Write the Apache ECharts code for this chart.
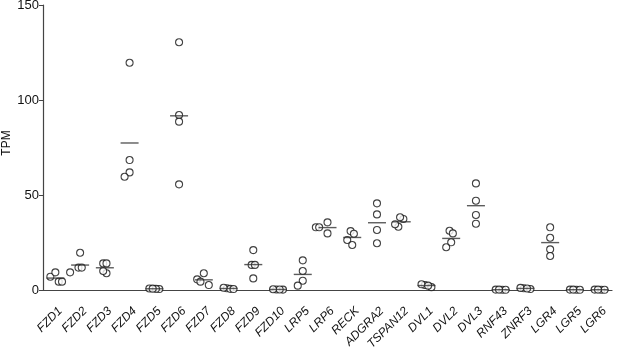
<!DOCTYPE html>
<html>
<head>
<meta charset="utf-8">
<script src="https://cdn.jsdelivr.net/npm/echarts@6/dist/echarts.min.js"></script>
<style>
  html, body { margin: 0; padding: 0; background: #fff; }
  #chart { width: 617px; height: 348px; }
</style>
</head>
<body>
<div id="chart"></div>
<script>
// gene names on the x axis
const genes = ["FZD1", "FZD2", "FZD3", "FZD4", "FZD5", "FZD6", "FZD7", "FZD8", "FZD9", "FZD10", "LRP5",
  "LRP6", "RECK", "ADGRA2", "TSPAN12", "DVL1", "DVL2", "DVL3", "RNF43", "ZNRF3", "LGR4", "LGR5", "LGR6"];
// TPM per replicate (4 per gene)
const tpm = [
  [7.0, 9.3, 4.4, 4.4],
  [19.6, 11.8, 11.8, 9.3],
  [14.0, 14.0, 8.8, 10.0],
  [119.6, 68.4, 61.9, 59.6],
  [0.8, 0.5, 0.6, 0.7],
  [130.4, 92.1, 88.6, 55.6],
  [8.8, 5.6, 4.4, 2.6],
  [0.9, 0.6, 1.2, 0.5],
  [21.0, 13.2, 13.2, 6.1],
  [0.2, 0.3, 0.3, 0.4],
  [15.6, 10.0, 4.9, 2.3],
  [35.6, 33.0, 33.0, 29.8],
  [31.0, 29.6, 26.3, 23.7],
  [45.6, 39.8, 31.6, 24.6],
  [37.4, 38.3, 33.3, 34.6],
  [2.6, 1.5, 3.0, 2.3],
  [31.2, 29.8, 25.1, 22.5],
  [56.1, 47.0, 39.5, 34.9],
  [0.1, 0.2, 0.1, 0.2],
  [0.9, 0.5, 1.1, 0.8],
  [33.0, 27.5, 21.4, 17.9],
  [0.1, 0.2, 0.1, 0.2],
  [0.1, 0.2, 0.1, 0.2]
];
const yName = "TPM";
const yMin = 0;
const yMax = 150;
const yStep = 50;

const points = [];
tpm.forEach((vals, i) => vals.forEach(v => points.push([i, v])));
const means = tpm.map((vals, i) => [i, vals.reduce((a, b) => a + b, 0) / vals.length]);

const chart = echarts.init(document.getElementById("chart"));
const font = "Liberation Sans, Arial, sans-serif";

const option = {
  animation: false,
  grid: { left: 43, right: 5, top: 5, bottom: 58, containLabel: false, outerBoundsMode: "none" },
  // axis title drawn by hand, the axis name kept getting pushed off the page
  graphic: [{
    type: "text",
    x: 7,
    y: 143,
    rotation: Math.PI / 2,
    style: { text: yName, fontSize: 12, fontFamily: font, fill: "#111", align: "center", verticalAlign: "middle" }
  }],
  xAxis: {
    type: "category",
    data: genes,
    axisLine: { lineStyle: { color: "#444", width: 1.2 } },
    axisTick: { alignWithLabel: true, length: 4, lineStyle: { color: "#444" } },
    axisLabel: {
      interval: 0,
      rotate: 45,
      margin: 24,
      padding: [0, -7, 0, 0],
      fontSize: 12,
      fontStyle: "italic",
      fontFamily: font,
      color: "#111"
    }
  },
  yAxis: {
    type: "value",
    min: yMin,
    max: yMax,
    interval: yStep,
    axisLine: { show: true, lineStyle: { color: "#444", width: 1.2 } },
    axisTick: { show: true, length: 4, lineStyle: { color: "#444" } },
    axisLabel: { fontSize: 13, fontFamily: font, color: "#111", margin: 4 },
    splitLine: { show: false }
  },
  series: [
    {
      type: "scatter",
      data: points,
      symbol: "circle",
      symbolSize: 7,
      itemStyle: { color: "#fff", borderColor: "#111", borderWidth: 1.1 },
      z: 2
    },
    {
      type: "scatter",
      data: means,
      symbol: "rect",
      symbolSize: [18, 1.4],
      itemStyle: { color: "#333" },
      z: 3
    }
  ]
};
chart.setOption(option);

// swarm layout: near-ties spread evenly, others pushed sideways until they stop overlapping
const step = 5, minDist = 6.5, tieGap = 3, tieSpacing = 3.3;
const offsets = new Array(points.length).fill(0);
let base = 0;
tpm.forEach((vals) => {
  const order = vals.map((v, k) => ({ k: base + k, py: chart.convertToPixel({ yAxisIndex: 0 }, v) }))
    .sort((a, b) => a.py - b.py);
  const placed = [];
  let j = 0;
  while (j < order.length) {
    const group = [order[j]];
    while (j + group.length < order.length && order[j + group.length].py - order[j].py < tieGap) {
      group.push(order[j + group.length]);
    }
    const spread = group.map((_, g) => (g - (group.length - 1) / 2) * tieSpacing);
    const tries = [0, -step, step, -2 * step, 2 * step, -3 * step, 3 * step];
    let dx = 0;
    for (const t of tries) {
      const ok = group.every((p, g) => placed.every(q => Math.hypot(q[0] - (t + spread[g]), q[1] - p.py) >= minDist));
      if (ok) { dx = t; break; }
    }
    group.forEach((p, g) => {
      offsets[p.k] = dx + spread[g];
      placed.push([dx + spread[g], p.py]);
    });
    j += group.length;
  }
  base += vals.length;
});
chart.setOption({
  series: [{ data: points.map((p, j) => ({ value: p, symbolOffset: [offsets[j], 0] })) }, {}]
});

window.addEventListener("resize", () => chart.resize());
</script>
</body>
</html>
